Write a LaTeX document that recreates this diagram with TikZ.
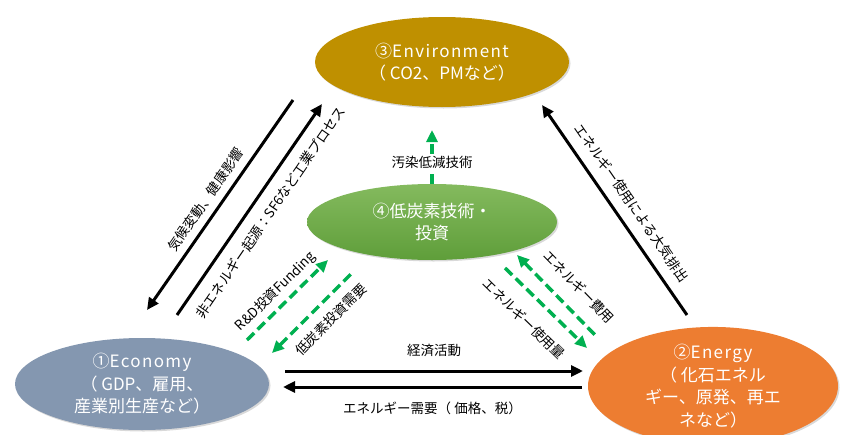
\documentclass[tikz,border=0pt]{standalone}
\usepackage{fontspec}
\setmainfont{Noto Sans CJK JP}
\usetikzlibrary{arrows.meta,shapes.geometric,shadows}
\definecolor{envcol}{HTML}{BF9000}
\definecolor{ecocol}{HTML}{8497B0}
\definecolor{enecol}{HTML}{ED7D31}
\definecolor{lowtop}{HTML}{84BA5E}
\definecolor{lowbot}{HTML}{5F9E3A}
\definecolor{dgreen}{HTML}{00B050}
\newcommand{\spc}[1]{{\addfontfeature{LetterSpace=8}#1}}
\begin{document}
\begin{tikzpicture}[x=1pt,y=-1pt,
  blob/.style={ellipse, inner sep=0pt, text=white, align=center,
    font=\fontsize{17}{22.5}\selectfont,
    drop shadow={shadow xshift=1.5pt, shadow yshift=-1.5pt, opacity=0.3}},
  blk/.style={line width=3pt, draw=black},
  grn/.style={draw=dgreen, line width=3.5pt, dash pattern=on 10pt off 5pt},
  tipe/.style={-{Triangle[length=12pt,width=11pt]}},
  tips/.style={{Triangle[length=12pt,width=11pt]}-},
  lab/.style={font=\fontsize{13.5}{16}\selectfont, inner sep=0pt, text=black},
]
\path[use as bounding box] (0,0) rectangle (841,434);

% ellipses
\node[blob, fill=envcol, minimum width=254pt, minimum height=90pt] (env) at (442,62)
  {③\spc{Environment}\\（ CO2、PMなど）};
\node[blob, top color=lowtop, bottom color=lowbot, minimum width=250pt, minimum height=76pt] (low) at (432,222)
  {④低炭素技術・\\投資};
\node[blob, fill=ecocol, minimum width=254pt, minimum height=92pt] (eco) at (142,384)
  {①\spc{Economy}\\（ GDP、雇用、\\産業別生産など）};
\node[blob, fill=enecol, minimum width=250pt, minimum height=96pt] (ene) at (713,386)
  {②\spc{Energy}\\（ 化石エネル\\ギー、原発、再エ\\ネなど）};

% black diagonal arrows
\coordinate (l1a) at (147,310); \coordinate (l1b) at (293,100);
\coordinate (l2a) at (177,315); \coordinate (l2b) at (322,104);
\coordinate (r1a) at (542,105); \coordinate (r1b) at (687,315);
\draw[blk, tips] (l1a) -- node[lab, sloped, above=7pt, pos=0.485]{気候変動、健康影響} (l1b);
\draw[blk, tipe] (l2a) -- node[lab, sloped, below=11pt, pos=0.537]{非エネルギー起源：SF6など工業プロセス} (l2b);
\draw[blk, tips] (r1a) -- node[lab, sloped, above=10.5pt, pos=0.515]{エネルギー使用による大気排出} (r1b);

% horizontal arrows
\coordinate (h1a) at (285,371); \coordinate (h1b) at (583,371);
\coordinate (h2a) at (582,387); \coordinate (h2b) at (283,387);
\draw[blk, tipe] (h1a) -- node[lab, above=13pt]{経済活動} (h1b);
\draw[blk, tipe] (h2a) -- node[lab, below=13pt]{エネルギー需要（ 価格、税）} (h2b);

% green dashed arrows
\coordinate (g1a) at (247,340); \coordinate (g1b) at (328,260);
\coordinate (g2a) at (272,353); \coordinate (g2b) at (353,272);
\coordinate (g3a) at (517,255); \coordinate (g3b) at (597,337);
\coordinate (g4a) at (505,268); \coordinate (g4b) at (587,348);
\draw[grn, tipe] (g1a) -- node[lab, sloped, above=5pt, pos=0.477]{R\&D投資Funding} (g1b);
\draw[grn, tips] (g2a) -- node[lab, sloped, below=10pt, pos=0.57]{低炭素投資需要} (g2b);
\draw[grn, tips] (g3a) -- node[lab, sloped, above=14pt, pos=0.578]{エネルギー費用} (g3b);
\draw[grn, tipe] (g4a) -- node[lab, sloped, below=15pt, pos=0.43]{エネルギー使用量} (g4b);

\coordinate (vtip) at (432,130);
\draw[grn, tipe] (low.north) -- node[lab, fill=white, inner sep=2pt, pos=0.39]{汚染低減技術} (vtip);
\end{tikzpicture}
\end{document}
